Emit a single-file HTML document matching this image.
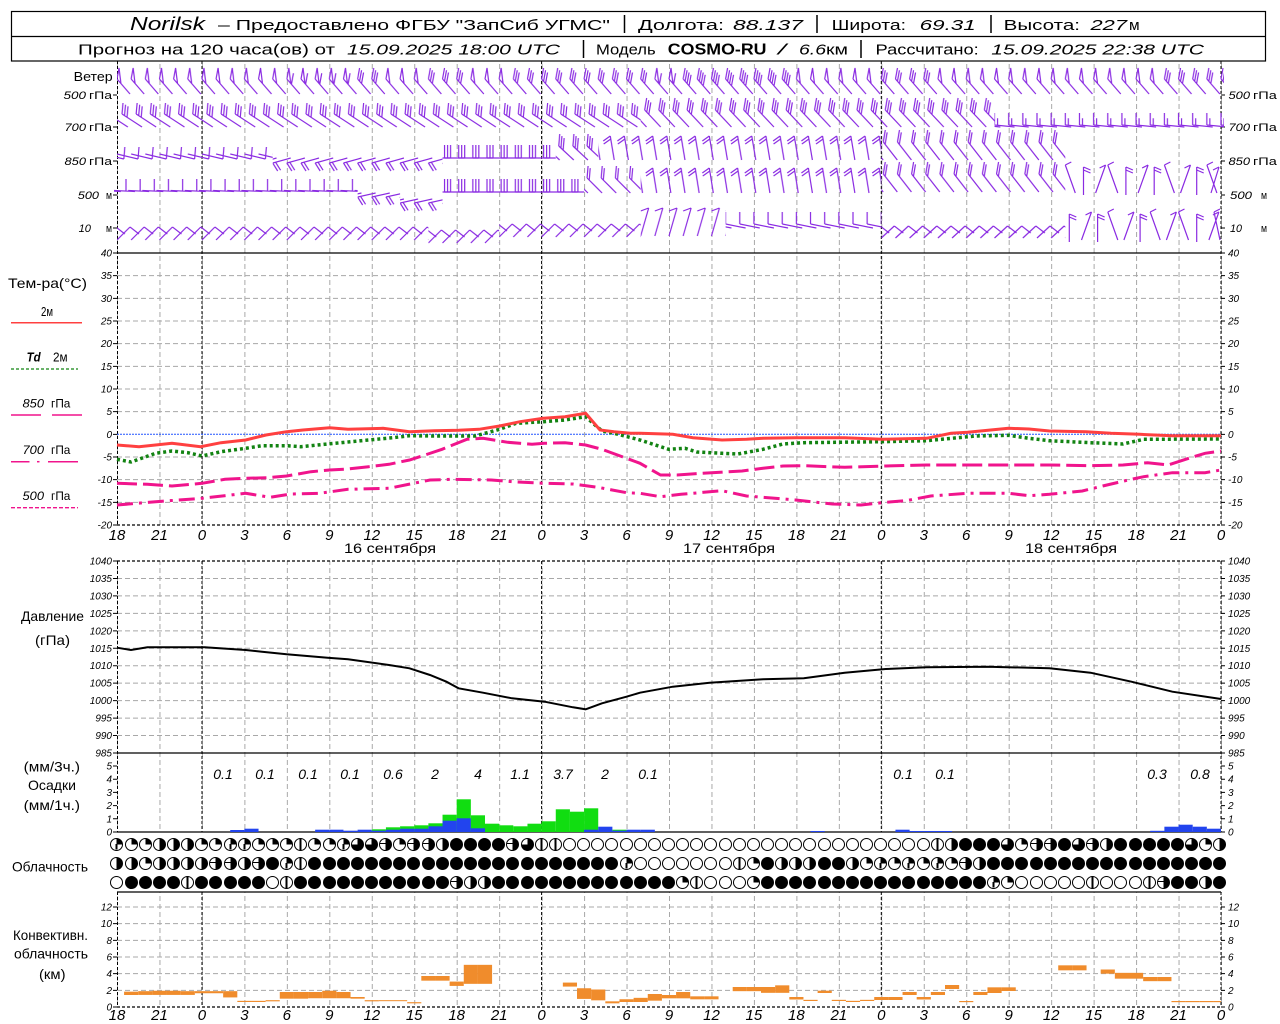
<!DOCTYPE html>
<html><head><meta charset="utf-8"><title>Norilsk meteogram</title>
<style>
html,body{margin:0;padding:0;background:#fff;}
#wrap{position:relative;width:1280px;height:1024px;overflow:hidden;}
svg{display:block;position:absolute;left:0;top:0;}
text{font-family:"Liberation Sans",sans-serif;fill:#000;}
.it{font-style:italic;}
.tk{font-size:10px;font-style:italic;}
.xl{font-size:15px;font-style:italic;}
.cr{position:absolute;left:109.923px;width:1118.154px;height:13px;display:flex;}
.cr i{flex:0 0 14.15385px;height:13px;position:relative;display:block;}
.cr i::before{content:"";position:absolute;left:0.577px;top:0;width:13px;height:13px;border-radius:50%;box-sizing:border-box;border:1.2px solid #000;background:#fff;}
.cr .c1::before{background:linear-gradient(90deg,#fff 43%,#000 43%,#000 57%,#fff 57%);}
.cr .c2::before{background:conic-gradient(#000 0 25%,#fff 0);}
.cr .c3::before{background:linear-gradient(90deg,transparent 43%,#000 43%,#000 57%,transparent 57%) bottom/100% 50% no-repeat,conic-gradient(#000 0 25%,#fff 0);}
.cr .c4::before{background:conic-gradient(#000 0 50%,#fff 0);}
.cr .c5::before{background:linear-gradient(#000,#000) left center/50% 1.4px no-repeat,conic-gradient(#000 0 50%,#fff 0);}
.cr .c6::before{background:conic-gradient(#000 0 75%,#fff 0);}
.cr .c7::before{background:linear-gradient(90deg,#000 43%,#fff 43%,#fff 57%,#000 57%);}
.cr .c8::before{background:#000;}
</style></head><body>
<div id="wrap">
<svg width="1280" height="1024" viewBox="0 0 1280 1024" xmlns="http://www.w3.org/2000/svg">
<defs>
<pattern id="vg" patternUnits="userSpaceOnUse" x="117" y="0" width="42.46154" height="8"><rect x="0" y="0" width="1" height="5" fill="#a8a8a8"/></pattern>
<g id="b1p" stroke="#8a2be2" stroke-width="1.2" fill="none"><path d="M0,79L13,94M0,79L2,68L3.93,83.54"/></g>
<g id="b1pf" stroke="#8a2be2" stroke-width="1.2" fill="none"><path d="M0,79L13,94M0,79L2,68L3.93,83.54M4.59,84.29l2,-11"/></g>
<g id="b1f3" stroke="#8a2be2" stroke-width="1.2" fill="none"><path d="M0,79L13,94M0,79l2,-11M1.97,81.27l2,-11M3.93,83.54l2,-11"/></g>
<g id="b1f4" stroke="#8a2be2" stroke-width="1.2" fill="none"><path d="M0,79L13,94M0,79l2,-11M1.97,81.27l2,-11M3.93,83.54l2,-11M5.9,85.8l2,-11"/></g>
<g id="b2a" stroke="#8a2be2" stroke-width="1.2" fill="none"><path d="M5,114L25,127M5,114l1,-11M7.52,115.64l1,-11M10.03,117.27l1,-11"/></g>
<g id="b2b" stroke="#8a2be2" stroke-width="1.2" fill="none"><path d="M4,110L20,127M4,110l2,-12M6.06,112.18l2,-12M8.11,114.37l2,-12"/></g>
<g id="b2c" stroke="#8a2be2" stroke-width="1.2" fill="none"><path d="M0,125L20,127M0,125v-12M3,125.3v-7"/></g>
<g id="b3a" stroke="#8a2be2" stroke-width="1.2" fill="none"><path d="M21,159L0,154M21,159l1,-12"/></g>
<g id="b3b" stroke="#8a2be2" stroke-width="1.2" fill="none"><path d="M0,163L18,158M0,163l5,8M2.89,162.2l5,8"/></g>
<g id="b3c" stroke="#8a2be2" stroke-width="1.2" fill="none"><path d="M2,158H22M2,158v-13M5,158v-13M8,158v-13"/></g>
<g id="b3d" stroke="#8a2be2" stroke-width="1.2" fill="none"><path d="M3,146L18,160M3,146l1,-12M5.19,148.05l1,-12M7.39,150.09l1,-12"/></g>
<g id="b3e" stroke="#8a2be2" stroke-width="1.2" fill="none"><path d="M12,136L16,160M12,136l-7,5M12.49,138.96l-7,5"/></g>
<g id="b3f" stroke="#8a2be2" stroke-width="1.2" fill="none"><path d="M2,142L16,160M2,142l2,-12M3.84,144.37l2,-12"/></g>
<g id="b4a" stroke="#8a2be2" stroke-width="1.2" fill="none"><path d="M-3,190.5L18,191.5M9,191v-12"/></g>
<g id="b4b" stroke="#8a2be2" stroke-width="1.2" fill="none"><path d="M0,197L18,193M0,197l5,8M2.93,196.35l5,8"/></g>
<g id="b4b2" stroke="#8a2be2" stroke-width="1.2" fill="none"><path d="M0,203L18,199M0,203l5,8M2.93,202.35l5,8"/></g>
<g id="b4c" stroke="#8a2be2" stroke-width="1.2" fill="none"><path d="M2,192H22M2,192v-13M5,192v-13M8,192v-13"/></g>
<g id="b4d" stroke="#8a2be2" stroke-width="1.2" fill="none"><path d="M3,178L18,193M3,178l1,-12M5.12,180.12l1,-12"/></g>
<g id="b4e" stroke="#8a2be2" stroke-width="1.2" fill="none"><path d="M12,168L16,193M12,168l-7,5M12.48,170.96l-7,5"/></g>
<g id="b4f" stroke="#8a2be2" stroke-width="1.2" fill="none"><path d="M2,174L16,192M2,174l2,-12M3.84,176.37l2,-12"/></g>
<g id="b5a" stroke="#8a2be2" stroke-width="1.2" fill="none"><path d="M13,227L0,240M13,227l9,7"/></g>
<g id="b5b" stroke="#8a2be2" stroke-width="1.2" fill="none"><path d="M13,230L0,243M13,230l9,7"/></g>
<g id="b5c" stroke="#8a2be2" stroke-width="1.2" fill="none"><path d="M13,224L0,237M13,224l9,7"/></g>
<g id="b5d" stroke="#8a2be2" stroke-width="1.2" fill="none"><path d="M8,208L0,236M8,208l-8,3"/></g>
<g id="b5e" stroke="#8a2be2" stroke-width="1.2" fill="none"><path d="M0,224L20,228M0,224v-12"/></g>
<g id="b5f" stroke="#8a2be2" stroke-width="1.2" fill="none"><path d="M13,226L0,238M13,226l9,7"/></g>

<pattern id="p1p" patternUnits="userSpaceOnUse" x="117" y="0" width="14.15385" height="1024"><use href="#b1p"/><use href="#b1p" x="-14.15385"/><use href="#b1p" x="-28.3077"/><use href="#b1p" x="14.15385"/></pattern>
<pattern id="p1pf" patternUnits="userSpaceOnUse" x="117" y="0" width="14.15385" height="1024"><use href="#b1pf"/><use href="#b1pf" x="-14.15385"/><use href="#b1pf" x="-28.3077"/><use href="#b1pf" x="14.15385"/></pattern>
<pattern id="p1f3" patternUnits="userSpaceOnUse" x="117" y="0" width="14.15385" height="1024"><use href="#b1f3"/><use href="#b1f3" x="-14.15385"/><use href="#b1f3" x="-28.3077"/><use href="#b1f3" x="14.15385"/></pattern>
<pattern id="p1f4" patternUnits="userSpaceOnUse" x="117" y="0" width="14.15385" height="1024"><use href="#b1f4"/><use href="#b1f4" x="-14.15385"/><use href="#b1f4" x="-28.3077"/><use href="#b1f4" x="14.15385"/></pattern>
<pattern id="p2a" patternUnits="userSpaceOnUse" x="117" y="0" width="14.15385" height="1024"><use href="#b2a"/><use href="#b2a" x="-14.15385"/><use href="#b2a" x="-28.3077"/><use href="#b2a" x="14.15385"/></pattern>
<pattern id="p2b" patternUnits="userSpaceOnUse" x="117" y="0" width="14.15385" height="1024"><use href="#b2b"/><use href="#b2b" x="-14.15385"/><use href="#b2b" x="-28.3077"/><use href="#b2b" x="14.15385"/></pattern>
<pattern id="p2c" patternUnits="userSpaceOnUse" x="117" y="0" width="14.15385" height="1024"><use href="#b2c"/><use href="#b2c" x="-14.15385"/><use href="#b2c" x="-28.3077"/><use href="#b2c" x="14.15385"/></pattern>
<pattern id="p3a" patternUnits="userSpaceOnUse" x="117" y="0" width="14.15385" height="1024"><use href="#b3a"/><use href="#b3a" x="-14.15385"/><use href="#b3a" x="-28.3077"/><use href="#b3a" x="14.15385"/></pattern>
<pattern id="p3b" patternUnits="userSpaceOnUse" x="117" y="0" width="14.15385" height="1024"><use href="#b3b"/><use href="#b3b" x="-14.15385"/><use href="#b3b" x="-28.3077"/><use href="#b3b" x="14.15385"/></pattern>
<pattern id="p3c" patternUnits="userSpaceOnUse" x="117" y="0" width="14.15385" height="1024"><use href="#b3c"/><use href="#b3c" x="-14.15385"/><use href="#b3c" x="-28.3077"/><use href="#b3c" x="14.15385"/></pattern>
<pattern id="p3d" patternUnits="userSpaceOnUse" x="117" y="0" width="14.15385" height="1024"><use href="#b3d"/><use href="#b3d" x="-14.15385"/><use href="#b3d" x="-28.3077"/><use href="#b3d" x="14.15385"/></pattern>
<pattern id="p3e" patternUnits="userSpaceOnUse" x="117" y="0" width="14.15385" height="1024"><use href="#b3e"/><use href="#b3e" x="-14.15385"/><use href="#b3e" x="-28.3077"/><use href="#b3e" x="14.15385"/></pattern>
<pattern id="p3f" patternUnits="userSpaceOnUse" x="117" y="0" width="14.15385" height="1024"><use href="#b3f"/><use href="#b3f" x="-14.15385"/><use href="#b3f" x="-28.3077"/><use href="#b3f" x="14.15385"/></pattern>
<pattern id="p4a" patternUnits="userSpaceOnUse" x="117" y="0" width="14.15385" height="1024"><use href="#b4a"/><use href="#b4a" x="-14.15385"/><use href="#b4a" x="-28.3077"/><use href="#b4a" x="14.15385"/></pattern>
<pattern id="p4b" patternUnits="userSpaceOnUse" x="117" y="0" width="14.15385" height="1024"><use href="#b4b"/><use href="#b4b" x="-14.15385"/><use href="#b4b" x="-28.3077"/><use href="#b4b" x="14.15385"/></pattern>
<pattern id="p4b2" patternUnits="userSpaceOnUse" x="117" y="0" width="14.15385" height="1024"><use href="#b4b2"/><use href="#b4b2" x="-14.15385"/><use href="#b4b2" x="-28.3077"/><use href="#b4b2" x="14.15385"/></pattern>
<pattern id="p4c" patternUnits="userSpaceOnUse" x="117" y="0" width="14.15385" height="1024"><use href="#b4c"/><use href="#b4c" x="-14.15385"/><use href="#b4c" x="-28.3077"/><use href="#b4c" x="14.15385"/></pattern>
<pattern id="p4d" patternUnits="userSpaceOnUse" x="117" y="0" width="14.15385" height="1024"><use href="#b4d"/><use href="#b4d" x="-14.15385"/><use href="#b4d" x="-28.3077"/><use href="#b4d" x="14.15385"/></pattern>
<pattern id="p4e" patternUnits="userSpaceOnUse" x="117" y="0" width="14.15385" height="1024"><use href="#b4e"/><use href="#b4e" x="-14.15385"/><use href="#b4e" x="-28.3077"/><use href="#b4e" x="14.15385"/></pattern>
<pattern id="p4f" patternUnits="userSpaceOnUse" x="117" y="0" width="14.15385" height="1024"><use href="#b4f"/><use href="#b4f" x="-14.15385"/><use href="#b4f" x="-28.3077"/><use href="#b4f" x="14.15385"/></pattern>
<pattern id="p5a" patternUnits="userSpaceOnUse" x="117" y="0" width="14.15385" height="1024"><use href="#b5a"/><use href="#b5a" x="-14.15385"/><use href="#b5a" x="-28.3077"/><use href="#b5a" x="14.15385"/></pattern>
<pattern id="p5b" patternUnits="userSpaceOnUse" x="117" y="0" width="14.15385" height="1024"><use href="#b5b"/><use href="#b5b" x="-14.15385"/><use href="#b5b" x="-28.3077"/><use href="#b5b" x="14.15385"/></pattern>
<pattern id="p5c" patternUnits="userSpaceOnUse" x="117" y="0" width="14.15385" height="1024"><use href="#b5c"/><use href="#b5c" x="-14.15385"/><use href="#b5c" x="-28.3077"/><use href="#b5c" x="14.15385"/></pattern>
<pattern id="p5d" patternUnits="userSpaceOnUse" x="117" y="0" width="14.15385" height="1024"><use href="#b5d"/><use href="#b5d" x="-14.15385"/><use href="#b5d" x="-28.3077"/><use href="#b5d" x="14.15385"/></pattern>
<pattern id="p5e" patternUnits="userSpaceOnUse" x="117" y="0" width="14.15385" height="1024"><use href="#b5e"/><use href="#b5e" x="-14.15385"/><use href="#b5e" x="-28.3077"/><use href="#b5e" x="14.15385"/></pattern>
<pattern id="p5f" patternUnits="userSpaceOnUse" x="117" y="0" width="14.15385" height="1024"><use href="#b5f"/><use href="#b5f" x="-14.15385"/><use href="#b5f" x="-28.3077"/><use href="#b5f" x="14.15385"/></pattern>
</defs>
<rect x="0" y="0" width="1280" height="1024" fill="#fff"/>

<!-- vertical gray grid -->
<rect x="117" y="61" width="1105" height="192" fill="url(#vg)"/>
<rect x="117" y="253" width="1105" height="272" fill="url(#vg)"/>
<rect x="117" y="561" width="1105" height="192" fill="url(#vg)"/>
<rect x="117" y="753" width="1105" height="79" fill="url(#vg)"/>
<rect x="117" y="892" width="1105" height="115" fill="url(#vg)"/>
<!-- horizontal gray grid -->
<path fill="none" stroke="#a8a8a8" stroke-width="1" stroke-dasharray="5,3" d="M117,275.67H1221M117,298.33H1221M117,321H1221M117,343.67H1221M117,366.33H1221M117,389H1221M117,411.67H1221M117,457H1221M117,479.67H1221M117,502.33H1221M117,578.45H1221M117,595.91H1221M117,613.36H1221M117,630.82H1221M117,648.27H1221M117,665.73H1221M117,683.18H1221M117,700.64H1221M117,718.09H1221M117,735.55H1221M117,990.33H1221M117,973.67H1221M117,957H1221M117,940.33H1221M117,923.67H1221M117,907H1221"/>
<!-- day lines -->
<path fill="none" stroke="#000" stroke-width="1" stroke-dasharray="3,2" d="M117.5,61V525M117.5,561V832M117.5,892V1007M202,61V525M202,561V832M202,892V1007M541.6,61V525M541.6,561V832M541.6,892V1007M881.3,61V525M881.3,561V832M881.3,892V1007M1221,61V525M1221,561V832M1221,892V1007"/>
<!-- borders -->
<g stroke="#000" stroke-width="1.2">
<line x1="117" y1="253" x2="1221" y2="253"/>
<line x1="117" y1="525" x2="1221" y2="525" stroke-dasharray="3,2"/>
<line x1="117" y1="561" x2="1221" y2="561" stroke-dasharray="3,2"/>
<line x1="117" y1="753" x2="1221" y2="753"/>
<line x1="117" y1="832" x2="1221" y2="832"/>
<line x1="117" y1="892" x2="1221" y2="892"/>
<line x1="117" y1="1007" x2="1221" y2="1007" stroke-dasharray="3,2"/>
</g>
<!-- ticks -->
<path fill="none" stroke="#000" stroke-width="1" d="M113,253h4M1221,253h4M113,275.67h4M1221,275.67h4M113,298.33h4M1221,298.33h4M113,321h4M1221,321h4M113,343.67h4M1221,343.67h4M113,366.33h4M1221,366.33h4M113,389h4M1221,389h4M113,411.67h4M1221,411.67h4M113,434.33h4M1221,434.33h4M113,457h4M1221,457h4M113,479.67h4M1221,479.67h4M113,502.33h4M1221,502.33h4M113,525h4M1221,525h4M113,561h4M1221,561h4M113,578.45h4M1221,578.45h4M113,595.91h4M1221,595.91h4M113,613.36h4M1221,613.36h4M113,630.82h4M1221,630.82h4M113,648.27h4M1221,648.27h4M113,665.73h4M1221,665.73h4M113,683.18h4M1221,683.18h4M113,700.64h4M1221,700.64h4M113,718.09h4M1221,718.09h4M113,735.55h4M1221,735.55h4M113,753h4M1221,753h4M113,832h4M1221,832h4M113,818.8h4M1221,818.8h4M113,805.6h4M1221,805.6h4M113,792.4h4M1221,792.4h4M113,779.2h4M1221,779.2h4M113,766h4M1221,766h4M113,1007h4M1221,1007h4M113,990.33h4M1221,990.33h4M113,973.67h4M1221,973.67h4M113,957h4M1221,957h4M113,940.33h4M1221,940.33h4M113,923.67h4M1221,923.67h4M113,907h4M1221,907h4M113,95h4M1221,95h4M113,127h4M1221,127h4M113,161h4M1221,161h4M113,195h4M1221,195h4M113,228h4M1221,228h4"/>

<!-- wind barbs -->
<g>
<rect x="117" y="62" width="169.85" height="190" fill="url(#p1p)"/>
<rect x="286.85" y="62" width="70.77" height="190" fill="url(#p1pf)"/>
<rect x="357.62" y="62" width="28.3" height="190" fill="url(#p1f3)"/>
<rect x="385.92" y="62" width="42.46" height="190" fill="url(#p1p)"/>
<rect x="428.38" y="62" width="42.47" height="190" fill="url(#p1f3)"/>
<rect x="470.85" y="62" width="42.46" height="190" fill="url(#p1p)"/>
<rect x="513.31" y="62" width="141.54" height="190" fill="url(#p1f3)"/>
<rect x="654.85" y="62" width="28.3" height="190" fill="url(#p1pf)"/>
<rect x="683.15" y="62" width="113.23" height="190" fill="url(#p1f4)"/>
<rect x="796.38" y="62" width="84.93" height="190" fill="url(#p1p)"/>
<rect x="881.31" y="62" width="56.61" height="190" fill="url(#p1f3)"/>
<rect x="937.92" y="62" width="226.46" height="190" fill="url(#p1p)"/>
<rect x="1164.38" y="62" width="59.62" height="190" fill="url(#p1f3)"/>

<rect x="117" y="62" width="523.69" height="190" fill="url(#p2a)"/>
<rect x="640.69" y="62" width="353.85" height="190" fill="url(#p2b)"/>
<rect x="994.54" y="62" width="229.46" height="190" fill="url(#p2c)"/>

<rect x="117" y="62" width="155.69" height="190" fill="url(#p3a)"/>
<rect x="272.69" y="62" width="169.85" height="190" fill="url(#p3b)"/>
<rect x="442.54" y="62" width="113.23" height="190" fill="url(#p3c)"/>
<rect x="555.77" y="62" width="42.46" height="190" fill="url(#p3d)"/>
<rect x="598.23" y="62" width="283.08" height="190" fill="url(#p3e)"/>
<rect x="881.31" y="62" width="184" height="190" fill="url(#p3f)"/>

<rect x="114" y="62" width="243.62" height="190" fill="url(#p4a)"/>
<rect x="357.62" y="62" width="42.46" height="190" fill="url(#p4b)"/>
<rect x="400.08" y="62" width="42.46" height="190" fill="url(#p4b2)"/>
<rect x="442.54" y="62" width="141.54" height="190" fill="url(#p4c)"/>
<rect x="584.08" y="62" width="56.61" height="190" fill="url(#p4d)"/>
<rect x="640.69" y="62" width="240.62" height="190" fill="url(#p4e)"/>
<rect x="881.31" y="62" width="184" height="190" fill="url(#p4f)"/>

<rect x="117" y="62" width="311.38" height="190" fill="url(#p5a)"/>
<rect x="428.38" y="62" width="70.77" height="190" fill="url(#p5b)"/>
<rect x="499.15" y="62" width="141.54" height="190" fill="url(#p5c)"/>
<rect x="640.69" y="62" width="84.93" height="190" fill="url(#p5d)"/>
<rect x="725.62" y="62" width="155.69" height="190" fill="url(#p5e)"/>
<rect x="881.31" y="62" width="184" height="190" fill="url(#p5f)"/>
<path fill="none" stroke="#8a2be2" stroke-width="1.2" d="M1065.3,165L1075.3,193M1065.3,165l6,-3M1083.5,167V195M1083.5,167l7,3M1083.5,170l7,3M1105.6,165L1095.6,193M1105.6,165l-6,3M1107.8,165L1117.8,193M1107.8,165l6,-3M1125.9,167V195M1125.9,167l7,3M1125.9,170l7,3M1148.1,165L1138.1,193M1148.1,165l-6,3M1154.2,167V195M1154.2,167l7,3M1154.2,170l7,3M1164.4,165L1174.4,193M1164.4,165l6,-3M1190.5,165L1180.5,193M1190.5,165l-6,3M1196.7,167V195M1196.7,167l7,3M1196.7,170l7,3M1206.9,165L1216.9,193M1206.9,165l6,-3M1219,167L1211,193M1219,167l-6,3
M1069.3,214V242M1069.3,214l7,3M1069.3,217l7,3M1091.5,212L1081.5,240M1091.5,212l-6,3M1097.6,214V242M1097.6,214l7,3M1097.6,217l7,3M1107.8,212L1117.8,240M1107.8,212l6,-3M1133.9,212L1123.9,240M1133.9,212l-6,3M1140.1,214V242M1140.1,214l7,3M1140.1,217l7,3M1150.2,212L1160.2,240M1150.2,212l6,-3M1176.4,212L1166.4,240M1176.4,212l-6,3M1178.5,212L1188.5,240M1178.5,212l6,-3M1196.7,214V242M1196.7,214l7,3M1196.7,217l7,3M1218.9,212L1208.9,240M1218.9,212l-6,3M1214,212L1220,240M1214,212l6,-3"/>
</g>

<!-- header -->
<rect x="11.5" y="11.5" width="1254" height="49.5" fill="none" stroke="#000" stroke-width="1.2"/>
<line x1="11" y1="36.5" x2="1266" y2="36.5" stroke="#000" stroke-width="1.2"/>
<g font-size="15">
<text x="130" y="30" font-family="Liberation Serif" font-style="italic" font-size="18" textLength="75" lengthAdjust="spacingAndGlyphs">Norilsk</text>
<text x="218" y="30" textLength="392" lengthAdjust="spacingAndGlyphs">– Предоставлено ФГБУ "ЗапСиб УГМС"</text>
<text x="638" y="30" textLength="86" lengthAdjust="spacingAndGlyphs">Долгота:</text>
<text x="733" y="30" class="it" textLength="70" lengthAdjust="spacingAndGlyphs">88.137</text>
<text x="831.6" y="30" textLength="74.4" lengthAdjust="spacingAndGlyphs">Широта:</text>
<text x="919.7" y="30" class="it" textLength="56" lengthAdjust="spacingAndGlyphs">69.31</text>
<text x="1003.6" y="30" textLength="76.4" lengthAdjust="spacingAndGlyphs">Высота:</text>
<text x="1090.5" y="30" class="it" textLength="36.5" lengthAdjust="spacingAndGlyphs">227</text>
<text x="1129" y="30" textLength="10.6" lengthAdjust="spacingAndGlyphs">м</text>
<text x="78" y="54.5" textLength="257" lengthAdjust="spacingAndGlyphs">Прогноз на 120 часа(ов) от</text>
<text x="347" y="54.5" class="it" textLength="213" lengthAdjust="spacingAndGlyphs">15.09.2025 18:00 UTC</text>
<text x="596" y="54.5" textLength="59.6" lengthAdjust="spacingAndGlyphs">Модель</text>
<text x="667.8" y="54.5" font-family="Liberation Serif" font-weight="bold" font-size="16" textLength="98.7" lengthAdjust="spacingAndGlyphs">COSMO-RU</text>
<text x="778" y="54.5" class="it" textLength="8" lengthAdjust="spacingAndGlyphs">/</text>
<text x="799" y="54.5" class="it" textLength="27" lengthAdjust="spacingAndGlyphs">6.6</text>
<text x="826" y="54.5" textLength="22" lengthAdjust="spacingAndGlyphs">км</text>
<text x="875.5" y="54.5" textLength="103.2" lengthAdjust="spacingAndGlyphs">Рассчитано:</text>
<text x="991.3" y="54.5" class="it" textLength="212.7" lengthAdjust="spacingAndGlyphs">15.09.2025 22:38 UTC</text>
</g>
<g stroke="#000" stroke-width="1.5">
<line x1="624.5" y1="15" x2="624.5" y2="33"/>
<line x1="817" y1="15" x2="817" y2="33"/>
<line x1="991" y1="15" x2="991" y2="33"/>
<line x1="583.5" y1="40" x2="583.5" y2="58"/>
<line x1="861" y1="40" x2="861" y2="58"/>
</g>

<!-- wind labels -->
<g font-size="11">
<text x="73.7" y="81" font-size="13" textLength="39" lengthAdjust="spacingAndGlyphs">Ветер</text>
<text x="63.5" y="99" class="it" textLength="22.5" lengthAdjust="spacingAndGlyphs">500</text><text x="89" y="99" textLength="23" lengthAdjust="spacingAndGlyphs">гПа</text>
<text x="64.5" y="131" class="it" textLength="21.5" lengthAdjust="spacingAndGlyphs">700</text><text x="89" y="131" textLength="23" lengthAdjust="spacingAndGlyphs">гПа</text>
<text x="64.5" y="165" class="it" textLength="21.5" lengthAdjust="spacingAndGlyphs">850</text><text x="89" y="165" textLength="23" lengthAdjust="spacingAndGlyphs">гПа</text>
<text x="77.8" y="199" class="it" textLength="21.2" lengthAdjust="spacingAndGlyphs">500</text><text x="106" y="199" textLength="6" lengthAdjust="spacingAndGlyphs">м</text>
<text x="78.6" y="232" class="it" textLength="12.4" lengthAdjust="spacingAndGlyphs">10</text><text x="106" y="232" textLength="6" lengthAdjust="spacingAndGlyphs">м</text>
<text x="1228.5" y="99" class="it" textLength="21.5" lengthAdjust="spacingAndGlyphs">500</text><text x="1253" y="99" textLength="23.8" lengthAdjust="spacingAndGlyphs">гПа</text>
<text x="1228.5" y="131" class="it" textLength="21.5" lengthAdjust="spacingAndGlyphs">700</text><text x="1253" y="131" textLength="23.8" lengthAdjust="spacingAndGlyphs">гПа</text>
<text x="1228.5" y="165" class="it" textLength="21.5" lengthAdjust="spacingAndGlyphs">850</text><text x="1253" y="165" textLength="23.8" lengthAdjust="spacingAndGlyphs">гПа</text>
<text x="1230" y="199" class="it" textLength="22" lengthAdjust="spacingAndGlyphs">500</text><text x="1261" y="199" textLength="6" lengthAdjust="spacingAndGlyphs">м</text>
<text x="1230" y="232" class="it" textLength="12" lengthAdjust="spacingAndGlyphs">10</text><text x="1261" y="232" textLength="6" lengthAdjust="spacingAndGlyphs">м</text>
</g>

<!-- temperature panel labels -->
<text x="8" y="288" font-size="14" textLength="79" lengthAdjust="spacingAndGlyphs">Тем-ра(°C)</text>
<text x="41" y="316" font-size="13" textLength="12" lengthAdjust="spacingAndGlyphs">2м</text>
<line x1="11" y1="322.7" x2="82" y2="322.7" stroke="#ff4040" stroke-width="1.5"/>
<text x="26.6" y="361.7" font-size="13" font-family="Liberation Serif" font-style="italic" font-weight="bold" textLength="14" lengthAdjust="spacingAndGlyphs">Td</text>
<text x="53" y="361.7" font-size="13" textLength="14.6" lengthAdjust="spacingAndGlyphs">2м</text>
<line x1="11" y1="369" x2="78" y2="369" stroke="#128312" stroke-width="1.3" stroke-dasharray="3,2"/>
<text x="22.5" y="407.7" font-size="12" class="it" textLength="21.5" lengthAdjust="spacingAndGlyphs">850</text>
<text x="51" y="407.7" font-size="12" textLength="19.4" lengthAdjust="spacingAndGlyphs">гПа</text>
<line x1="11" y1="415" x2="41" y2="415" stroke="#f0148c" stroke-width="1.5"/>
<line x1="52" y1="415" x2="82" y2="415" stroke="#f0148c" stroke-width="1.5"/>
<text x="22.5" y="454" font-size="12" class="it" textLength="21.5" lengthAdjust="spacingAndGlyphs">700</text>
<text x="51" y="454" font-size="12" textLength="19.4" lengthAdjust="spacingAndGlyphs">гПа</text>
<line x1="11" y1="461.7" x2="29.5" y2="461.7" stroke="#f0148c" stroke-width="1.5"/>
<line x1="37" y1="461.7" x2="39.5" y2="461.7" stroke="#f0148c" stroke-width="1.5"/>
<line x1="48" y1="461.7" x2="78" y2="461.7" stroke="#f0148c" stroke-width="1.5"/>
<text x="22.5" y="500" font-size="12" class="it" textLength="21.5" lengthAdjust="spacingAndGlyphs">500</text>
<text x="51" y="500" font-size="12" textLength="19.4" lengthAdjust="spacingAndGlyphs">гПа</text>
<line x1="11" y1="507.7" x2="78" y2="507.7" stroke="#f0148c" stroke-width="1.3" stroke-dasharray="4,2"/>

<!-- tick labels -->
<g class="tk" text-anchor="end">
<text x="112" y="256.5">40</text><text x="112" y="279.2">35</text><text x="112" y="301.8">30</text><text x="112" y="324.5">25</text>
<text x="112" y="347.2">20</text><text x="112" y="369.8">15</text><text x="112" y="392.5">10</text><text x="112" y="415.2">5</text>
<text x="112" y="437.8">0</text><text x="112" y="460.5">-5</text><text x="112" y="483.2">-10</text><text x="112" y="505.8">-15</text><text x="112" y="528.5">-20</text>
<text x="112" y="564.5">1040</text><text x="112" y="582">1035</text><text x="112" y="599.4">1030</text><text x="112" y="616.9">1025</text>
<text x="112" y="634.3">1020</text><text x="112" y="651.8">1015</text><text x="112" y="669.2">1010</text><text x="112" y="686.7">1005</text>
<text x="112" y="704.1">1000</text><text x="112" y="721.6">995</text><text x="112" y="739">990</text><text x="112" y="756.5">985</text>
<text x="112" y="835.5">0</text><text x="112" y="822.3">1</text><text x="112" y="809.1">2</text><text x="112" y="795.9">3</text><text x="112" y="782.7">4</text><text x="112" y="769.5">5</text>
<text x="112" y="1010.5">0</text><text x="112" y="993.8">2</text><text x="112" y="977.2">4</text><text x="112" y="960.5">6</text><text x="112" y="943.8">8</text><text x="112" y="927.2">10</text><text x="112" y="910.5">12</text>
</g>
<g class="tk">
<text x="1228" y="256.5">40</text><text x="1228" y="279.2">35</text><text x="1228" y="301.8">30</text><text x="1228" y="324.5">25</text>
<text x="1228" y="347.2">20</text><text x="1228" y="369.8">15</text><text x="1228" y="392.5">10</text><text x="1228" y="415.2">5</text>
<text x="1228" y="437.8">0</text><text x="1228" y="460.5">-5</text><text x="1228" y="483.2">-10</text><text x="1228" y="505.8">-15</text><text x="1228" y="528.5">-20</text>
<text x="1228" y="564.5">1040</text><text x="1228" y="582">1035</text><text x="1228" y="599.4">1030</text><text x="1228" y="616.9">1025</text>
<text x="1228" y="634.3">1020</text><text x="1228" y="651.8">1015</text><text x="1228" y="669.2">1010</text><text x="1228" y="686.7">1005</text>
<text x="1228" y="704.1">1000</text><text x="1228" y="721.6">995</text><text x="1228" y="739">990</text><text x="1228" y="756.5">985</text>
<text x="1228" y="835.5">0</text><text x="1228" y="822.3">1</text><text x="1228" y="809.1">2</text><text x="1228" y="795.9">3</text><text x="1228" y="782.7">4</text><text x="1228" y="769.5">5</text>
<text x="1228" y="1010.5">0</text><text x="1228" y="993.8">2</text><text x="1228" y="977.2">4</text><text x="1228" y="960.5">6</text><text x="1228" y="943.8">8</text><text x="1228" y="927.2">10</text><text x="1228" y="910.5">12</text>
</g>

<!-- temperature curves -->
<line x1="117" y1="434.3" x2="1221" y2="434.3" stroke="#2255ff" stroke-width="1" stroke-dasharray="2,1"/>
<polyline fill="none" stroke="#f0148c" stroke-width="3" stroke-dasharray="16,6,3,6" points="117,505 155.6,501.7 202,498.3 245.7,493.3 270,497.3 290.7,494 319.4,493.3 348,489.3 389,488.3 413.6,483.3 430,480 454.5,479.3 491.4,480 512,481.7 544.6,483.3 573,484 598,487.3 626.5,492.7 640,493.3 660.5,496.7 681,494.3 722,490.7 746.5,496 763,497.3 795.6,500 832.5,504 861,505 885.7,502.3 906,500.7 930.7,496 967.6,493.3 1008.5,493.3 1029,495.7 1049.5,494.3 1082.3,491 1102.7,486 1131.4,479.3 1143.7,476.7 1172.4,472.7 1205,472.7 1221,470"/>
<polyline fill="none" stroke="#f0148c" stroke-width="3" stroke-dasharray="20,6" points="117,483.3 147.4,484.3 172,486 202,483.3 225,479.3 245.7,478.3 268,477.7 286.6,476 311,471.7 329.6,470 348,469 368.6,466.7 389,464.3 409.5,460 428,454 442,449.3 466.8,439.3 483,438.3 507.8,442.3 532,444.3 544.6,443.3 565,442.7 585.6,445 602,449.3 626.5,458.3 640,463.3 660.5,475 677,475 701,473.3 742,471 763,468.3 783,466 803.8,465.7 844.7,467.3 885.7,466 926.6,465 1049.5,465 1090.5,465.7 1123,465 1147.7,462.7 1168,465 1188.7,458.3 1205,453.3 1221,451"/>
<polyline fill="none" stroke="#128312" stroke-width="3.5" stroke-dasharray="3,3" points="117,459.3 131,462 155.6,453.3 172,451 188,452.7 202,456 221,451.7 245.7,448.3 262,445.7 286.6,445.7 301,446.7 327.6,444 368.6,440 393,437.7 409.5,435.7 434,436 475,436 499.6,429.3 516,423.3 543.4,421.7 565,420 585.6,416.7 602,431 614,433.3 640,440 668.7,449.3 685,448.3 697,452 722,453.3 738,454 763,449.3 783,444 803.8,442.7 881.6,441.7 926.6,440.7 975.8,436 1008.5,435.3 1029,438.3 1049.5,440.7 1090.5,442.7 1123,444 1143.7,439.3 1221,439"/>
<polyline fill="none" stroke="#ff4040" stroke-width="3" points="117,445 139,446.7 172,443.3 200.6,446.7 221,442.7 245.7,440 266,435 286.6,431.7 303,430 329.6,427.7 348,429.3 383,428.3 409.5,431.7 434,430.7 458.6,430.3 479,429.3 499.6,426 520,421.7 543.4,418.3 565,416.7 585.6,413.3 600,430 614,431.7 630.6,433.3 640,433.3 672.8,434.3 693,437.7 722,440 746.5,439.3 763,438.3 795.6,437.7 844.7,437.7 881.6,439.3 926.6,438.3 951,433.3 967.6,432.3 1008.5,428.3 1029,429 1049.5,431 1086,431.7 1111,433.3 1139.6,434.3 1172,435.7 1221,435.7"/>

<!-- x labels -->
<g class="xl" text-anchor="middle">
<text x="117" y="540">18</text><text x="159.5" y="540">21</text><text x="201.9" y="540">0</text><text x="244.4" y="540">3</text><text x="286.8" y="540">6</text><text x="329.3" y="540">9</text><text x="371.8" y="540">12</text><text x="414.2" y="540">15</text><text x="456.7" y="540">18</text><text x="499.2" y="540">21</text><text x="541.6" y="540">0</text><text x="584.1" y="540">3</text><text x="626.5" y="540">6</text><text x="669" y="540">9</text><text x="711.5" y="540">12</text><text x="753.9" y="540">15</text><text x="796.4" y="540">18</text><text x="838.8" y="540">21</text><text x="881.3" y="540">0</text><text x="923.8" y="540">3</text><text x="966.2" y="540">6</text><text x="1008.7" y="540">9</text><text x="1051.2" y="540">12</text><text x="1093.6" y="540">15</text><text x="1136.1" y="540">18</text><text x="1178.5" y="540">21</text><text x="1221" y="540">0</text>
<text x="117" y="1020">18</text><text x="159.5" y="1020">21</text><text x="201.9" y="1020">0</text><text x="244.4" y="1020">3</text><text x="286.8" y="1020">6</text><text x="329.3" y="1020">9</text><text x="371.8" y="1020">12</text><text x="414.2" y="1020">15</text><text x="456.7" y="1020">18</text><text x="499.2" y="1020">21</text><text x="541.6" y="1020">0</text><text x="584.1" y="1020">3</text><text x="626.5" y="1020">6</text><text x="669" y="1020">9</text><text x="711.5" y="1020">12</text><text x="753.9" y="1020">15</text><text x="796.4" y="1020">18</text><text x="838.8" y="1020">21</text><text x="881.3" y="1020">0</text><text x="923.8" y="1020">3</text><text x="966.2" y="1020">6</text><text x="1008.7" y="1020">9</text><text x="1051.2" y="1020">12</text><text x="1093.6" y="1020">15</text><text x="1136.1" y="1020">18</text><text x="1178.5" y="1020">21</text><text x="1221" y="1020">0</text>
</g>
<g font-size="14">
<text x="344" y="553" textLength="92" lengthAdjust="spacingAndGlyphs">16 сентября</text>
<text x="683" y="553" textLength="92" lengthAdjust="spacingAndGlyphs">17 сентября</text>
<text x="1025" y="553" textLength="92" lengthAdjust="spacingAndGlyphs">18 сентября</text>
</g>

<!-- pressure -->
<text x="21" y="621" font-size="14" textLength="63" lengthAdjust="spacingAndGlyphs">Давление</text>
<text x="35" y="645" font-size="14" textLength="35" lengthAdjust="spacingAndGlyphs">(гПа)</text>
<polyline fill="none" stroke="#000" stroke-width="2" points="117,647.7 131,650 147.4,647.3 204.7,647.3 245.7,650 262,651.7 286.6,654.3 327.6,657.7 348,659.3 389,665 409.5,668.3 430,675 446.4,681.7 458.6,688.3 483,692.7 512,698.3 544.6,701.7 573,707.3 585.6,709.3 602,703.3 626.5,696.7 640,692.7 672.8,686.7 709.6,682.7 763,679.3 803.8,678.3 844.7,672.7 885.7,669 926.6,667.3 988,666.7 1049.5,668.3 1090.5,672.7 1131.4,681.7 1172.4,691.7 1221,699"/>

<!-- precipitation -->
<text x="23.7" y="771.7" font-size="14" textLength="56.3" lengthAdjust="spacingAndGlyphs">(мм/3ч.)</text>
<text x="28" y="790" font-size="14" textLength="48" lengthAdjust="spacingAndGlyphs">Осадки</text>
<text x="23.7" y="810" font-size="14" textLength="56.3" lengthAdjust="spacingAndGlyphs">(мм/1ч.)</text>
<g transform="translate(117,832) scale(14.15385,-1)">
<g fill="#11dd11">
<rect x="18" y="0" width="1" height="2.7"/><rect x="19" y="0" width="1" height="4.7"/><rect x="20" y="0" width="1" height="5.7"/><rect x="21" y="0" width="1" height="6.7"/><rect x="22" y="0" width="1" height="8.7"/><rect x="23" y="0" width="1" height="17.3"/><rect x="24" y="0" width="1" height="32.7"/><rect x="25" y="0" width="1" height="16.7"/><rect x="26" y="0" width="1" height="8.3"/><rect x="27" y="0" width="1" height="6.7"/><rect x="28" y="0" width="1" height="5.7"/><rect x="29" y="0" width="1" height="8.3"/><rect x="30" y="0" width="1" height="10.7"/><rect x="31" y="0" width="1" height="22.7"/><rect x="32" y="0" width="1" height="20.3"/><rect x="33" y="0" width="1" height="23.7"/><rect x="35" y="0" width="1" height="2.3"/>
</g>
<g fill="#2244ee">
<rect x="8" y="0" width="1" height="2"/><rect x="9" y="0" width="1" height="3.3"/><rect x="14" y="0" width="1" height="2.3"/><rect x="15" y="0" width="1" height="2.3"/><rect x="16" y="0" width="1" height="1.3"/><rect x="17" y="0" width="1" height="2.3"/><rect x="18" y="0" width="1" height="1.3"/><rect x="19" y="0" width="1" height="2.3"/><rect x="20" y="0" width="1" height="3.3"/><rect x="21" y="0" width="1" height="3.3"/><rect x="22" y="0" width="1" height="5.7"/><rect x="23" y="0" width="1" height="11.3"/><rect x="24" y="0" width="1" height="13.7"/><rect x="25" y="0" width="1" height="3.7"/><rect x="33" y="0" width="1" height="2.3"/><rect x="34" y="0" width="1" height="5.3"/><rect x="35" y="0" width="1" height="1.3"/><rect x="36" y="0" width="1" height="2.3"/><rect x="37" y="0" width="1" height="2.3"/><rect x="49" y="0" width="1" height="1"/><rect x="55" y="0" width="1" height="2.3"/><rect x="56" y="0" width="1" height="1"/><rect x="57" y="0" width="1" height="1"/><rect x="58" y="0" width="1" height="1"/><rect x="73" y="0" width="1" height="1.2"/><rect x="74" y="0" width="1" height="5.3"/><rect x="75" y="0" width="1" height="7.3"/><rect x="76" y="0" width="1" height="5.3"/><rect x="77" y="0" width="1" height="3.3"/>
</g>
</g>
<g font-size="14" class="it" text-anchor="middle">
<text x="223" y="779">0.1</text><text x="265" y="779">0.1</text><text x="308" y="779">0.1</text><text x="350" y="779">0.1</text><text x="393" y="779">0.6</text><text x="435" y="779">2</text><text x="478" y="779">4</text><text x="520" y="779">1.1</text><text x="563" y="779">3.7</text><text x="605" y="779">2</text><text x="648" y="779">0.1</text><text x="903" y="779">0.1</text><text x="945" y="779">0.1</text><text x="1157" y="779">0.3</text><text x="1200" y="779">0.8</text>
</g>

<!-- clouds label -->
<text x="12" y="871.5" font-size="14" textLength="76" lengthAdjust="spacingAndGlyphs">Облачность</text>

<!-- convective -->
<text x="13" y="940" font-size="14" textLength="75" lengthAdjust="spacingAndGlyphs">Конвективн.</text>
<text x="14" y="958.3" font-size="14" textLength="74" lengthAdjust="spacingAndGlyphs">облачность</text>
<text x="39" y="979" font-size="14" textLength="26.5" lengthAdjust="spacingAndGlyphs">(км)</text>
<g transform="translate(117,1007) scale(14.15385,-8.33333)" fill="#f08c2c">
<rect x="0.5" y="1.44" width="1" height="0.4"/><rect x="1.5" y="1.45" width="1" height="0.45"/><rect x="2.5" y="1.45" width="1" height="0.5"/><rect x="3.5" y="1.45" width="1" height="0.5"/><rect x="4.5" y="1.45" width="1" height="0.45"/><rect x="5.5" y="1.65" width="1" height="0.25"/><rect x="6.5" y="1.65" width="1" height="0.25"/><rect x="7.5" y="1.15" width="1" height="0.75"/><rect x="8.5" y="0.6" width="1" height="0.14"/><rect x="9.5" y="0.6" width="1" height="0.14"/><rect x="10.5" y="0.68" width="1" height="0.14"/><rect x="11.5" y="1.0" width="1" height="0.8"/><rect x="12.5" y="1.0" width="1" height="0.8"/><rect x="13.5" y="1.05" width="1" height="0.75"/><rect x="14.5" y="1.05" width="1" height="0.9"/><rect x="15.5" y="1.05" width="1" height="0.75"/><rect x="16.5" y="1.0" width="1" height="0.2"/><rect x="17.5" y="0.68" width="1" height="0.14"/><rect x="18.5" y="0.7" width="1" height="0.12"/><rect x="19.5" y="0.7" width="1" height="0.12"/><rect x="20.5" y="0.44" width="1" height="0.14"/><rect x="21.5" y="3.16" width="1" height="0.56"/><rect x="22.5" y="3.16" width="1" height="0.56"/><rect x="23.5" y="2.53" width="1" height="0.52"/><rect x="24.5" y="2.78" width="1" height="2.28"/><rect x="25.5" y="2.78" width="1" height="2.28"/>
<rect x="31.5" y="2.45" width="1" height="0.48"/><rect x="32.5" y="0.97" width="1" height="1.28"/><rect x="33.5" y="0.8" width="1" height="1.3"/><rect x="34.5" y="0.44" width="1" height="0.24"/><rect x="35.5" y="0.6" width="1" height="0.33"/><rect x="36.5" y="0.6" width="1" height="0.5"/><rect x="37.5" y="0.76" width="1" height="0.8"/><rect x="38.5" y="1.04" width="1" height="0.4"/><rect x="39.5" y="1.04" width="1" height="0.76"/><rect x="40.5" y="0.92" width="1" height="0.36"/><rect x="41.5" y="0.92" width="1" height="0.36"/><rect x="43.5" y="1.9" width="1" height="0.5"/><rect x="44.5" y="1.9" width="1" height="0.5"/><rect x="45.5" y="1.7" width="1" height="0.7"/><rect x="46.5" y="1.7" width="1" height="0.9"/><rect x="47.5" y="0.9" width="1" height="0.3"/><rect x="48.5" y="0.72" width="1" height="0.14"/><rect x="49.5" y="1.68" width="1" height="0.28"/><rect x="50.5" y="0.72" width="1" height="0.14"/><rect x="51.5" y="0.6" width="1" height="0.14"/><rect x="52.5" y="0.72" width="1" height="0.14"/><rect x="53.5" y="0.84" width="1" height="0.36"/><rect x="54.5" y="0.84" width="1" height="0.36"/><rect x="55.5" y="1.44" width="1" height="0.36"/><rect x="56.5" y="0.9" width="1" height="0.3"/><rect x="57.5" y="1.44" width="1" height="0.36"/><rect x="58.5" y="2.16" width="1" height="0.48"/><rect x="59.5" y="0.58" width="1" height="0.14"/><rect x="60.5" y="1.44" width="1" height="0.36"/><rect x="61.5" y="1.68" width="1" height="0.68"/><rect x="62.5" y="1.92" width="1" height="0.44"/>
<rect x="66.5" y="4.4" width="1" height="0.6"/><rect x="67.5" y="4.4" width="1" height="0.6"/><rect x="69.5" y="4.0" width="1" height="0.5"/><rect x="70.5" y="3.4" width="1" height="0.7"/><rect x="71.5" y="3.4" width="1" height="0.7"/><rect x="72.5" y="3.1" width="1" height="0.5"/><rect x="73.5" y="3.1" width="1" height="0.5"/><rect x="74.5" y="0.58" width="1" height="0.14"/><rect x="75.5" y="0.58" width="1" height="0.14"/><rect x="76.5" y="0.58" width="1" height="0.14"/><rect x="77.5" y="0.58" width="0.5" height="0.14"/>
</g>
</svg>

<div class="cr" style="top:837.5px"><i class=c3></i><i class=c2></i><i class=c2></i><i class=c4></i><i class=c4></i><i class=c4></i><i class=c2></i><i class=c2></i><i class=c3></i><i class=c3></i><i class=c2></i><i class=c2></i><i class=c2></i><i class=c1></i><i class=c2></i><i class=c2></i><i class=c3></i><i class=c6></i><i class=c6></i><i class=c5></i><i class=c2></i><i class=c5></i><i class=c5></i><i class=c4></i><i class=c8></i><i class=c8></i><i class=c8></i><i class=c8></i><i class=c5></i><i class=c6></i><i class=c1></i><i class=c1></i><i></i><i></i><i></i><i></i><i></i><i></i><i></i><i></i><i></i><i></i><i></i><i></i><i></i><i></i><i></i><i></i><i></i><i></i><i></i><i></i><i></i><i></i><i></i><i></i><i></i><i></i><i class=c1></i><i class=c4></i><i class=c8></i><i class=c8></i><i class=c8></i><i class=c6></i><i class=c2></i><i class=c5></i><i class=c5></i><i class=c8></i><i class=c6></i><i class=c5></i><i class=c4></i><i class=c8></i><i class=c8></i><i class=c8></i><i class=c8></i><i class=c8></i><i class=c6></i><i class=c2></i><i class=c4></i></div>
<div class="cr" style="top:856.5px"><i class=c4></i><i class=c4></i><i class=c2></i><i class=c4></i><i class=c4></i><i class=c4></i><i class=c4></i><i class=c5></i><i class=c5></i><i class=c4></i><i class=c5></i><i class=c8></i><i class=c3></i><i class=c1></i><i class=c8></i><i class=c8></i><i class=c8></i><i class=c8></i><i class=c8></i><i class=c8></i><i class=c8></i><i class=c8></i><i class=c8></i><i class=c8></i><i class=c8></i><i class=c8></i><i class=c8></i><i class=c8></i><i class=c8></i><i class=c8></i><i class=c8></i><i class=c8></i><i class=c8></i><i class=c8></i><i class=c8></i><i class=c8></i><i class=c3></i><i></i><i></i><i></i><i></i><i></i><i></i><i></i><i class=c1></i><i class=c2></i><i class=c8></i><i class=c4></i><i class=c4></i><i class=c4></i><i class=c8></i><i class=c8></i><i class=c4></i><i class=c2></i><i class=c3></i><i class=c2></i><i class=c3></i><i class=c2></i><i class=c3></i><i class=c2></i><i class=c5></i><i class=c4></i><i class=c8></i><i class=c8></i><i class=c8></i><i class=c8></i><i class=c8></i><i class=c8></i><i class=c8></i><i class=c8></i><i class=c8></i><i class=c8></i><i class=c8></i><i class=c8></i><i class=c8></i><i class=c8></i><i class=c8></i><i class=c8></i><i class=c8></i></div>
<div class="cr" style="top:875.5px"><i></i><i class=c8></i><i class=c8></i><i class=c8></i><i class=c8></i><i class=c1></i><i class=c8></i><i class=c8></i><i class=c8></i><i class=c8></i><i class=c8></i><i></i><i class=c1></i><i class=c8></i><i class=c8></i><i class=c8></i><i class=c8></i><i class=c8></i><i class=c8></i><i class=c8></i><i class=c8></i><i class=c8></i><i class=c8></i><i class=c8></i><i class=c5></i><i class=c4></i><i class=c4></i><i class=c8></i><i class=c8></i><i class=c8></i><i class=c8></i><i class=c8></i><i class=c8></i><i class=c8></i><i class=c8></i><i class=c8></i><i class=c8></i><i class=c8></i><i class=c8></i><i class=c8></i><i class=c2></i><i class=c1></i><i></i><i></i><i></i><i class=c2></i><i class=c8></i><i class=c8></i><i class=c8></i><i class=c8></i><i class=c8></i><i class=c8></i><i class=c8></i><i class=c8></i><i class=c8></i><i class=c8></i><i class=c8></i><i class=c8></i><i class=c8></i><i class=c8></i><i class=c8></i><i class=c8></i><i class=c3></i><i class=c2></i><i></i><i></i><i></i><i></i><i></i><i class=c1></i><i></i><i></i><i></i><i class=c1></i><i class=c5></i><i class=c8></i><i class=c8></i><i class=c4></i><i class=c8></i></div>
</div>
</body></html>
